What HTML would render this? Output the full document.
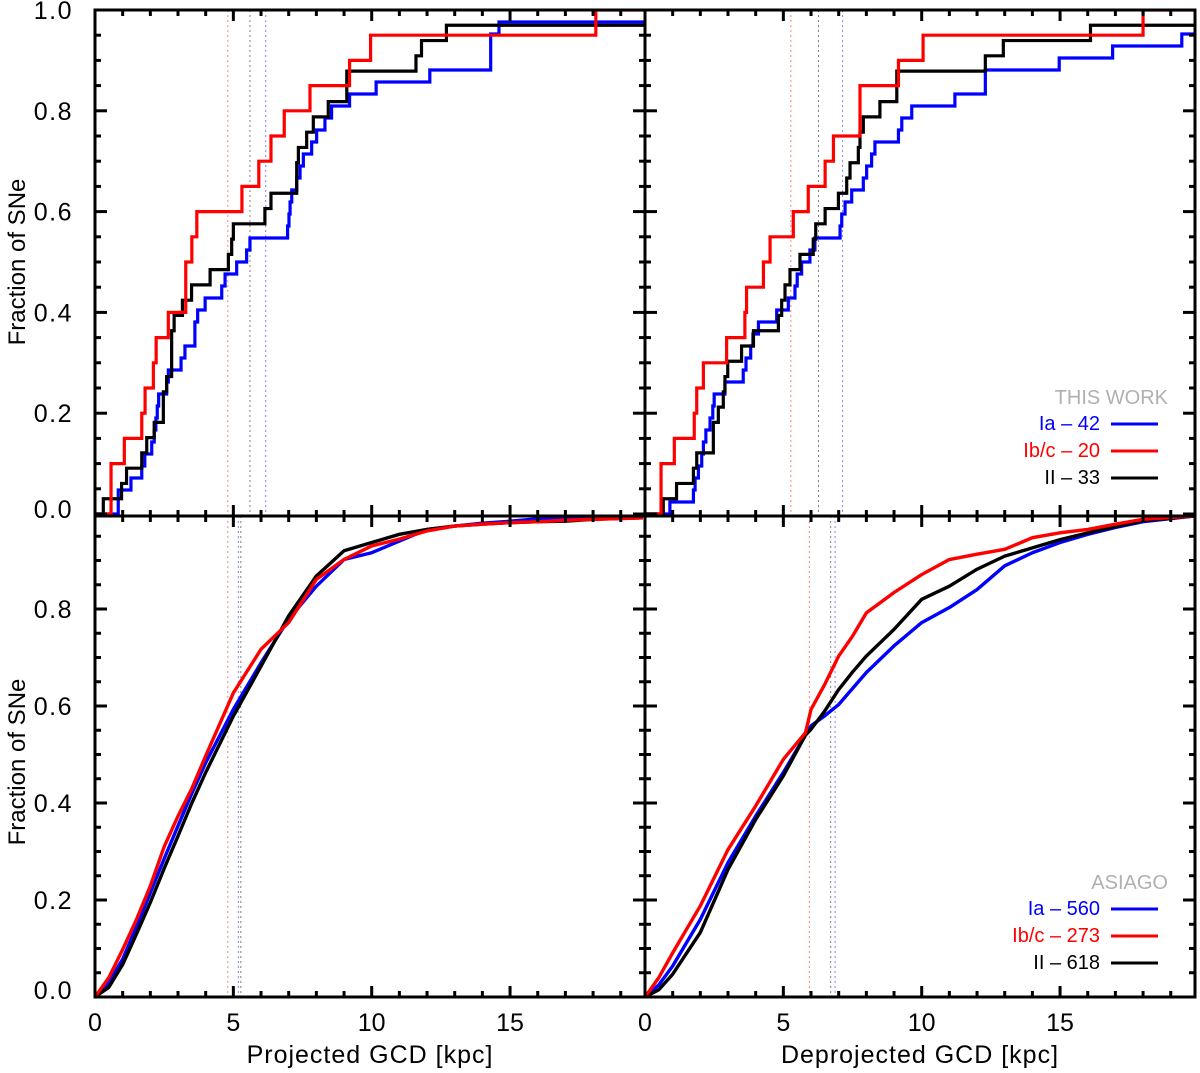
<!DOCTYPE html>
<html><head><meta charset="utf-8">
<style>
body{margin:0;background:#fff;}
svg{display:block;font-family:"Liberation Sans",Arial,sans-serif;}
</style></head>
<body>
<svg id="chart" width="1200" height="1073" viewBox="0 0 1200 1073" xmlns="http://www.w3.org/2000/svg"></svg>
<script>
// ---- data ----
const xTicks = [0, 5, 10, 15];
const yTicks = [0.0, 0.2, 0.4, 0.6, 0.8, 1.0];
// top panels: sorted SN distances (kpc), each a step of 1/N
const tlIa = [0.84,0.84,1.30,1.69,1.80,2.05,2.14,2.20,2.25,2.30,2.59,2.65,3.11,3.25,3.61,3.61,3.71,3.98,4.58,4.70,5.12,5.48,5.60,6.96,7.01,7.05,7.11,7.29,7.41,7.53,7.83,8.01,8.31,8.55,9.20,10.16,12.1,14.3,14.3,14.3,14.6,25];
const tlIbc = [0.58,0.58,1.06,1.69,1.81,2.11,2.21,2.65,3.28,3.28,3.50,3.68,5.31,5.92,6.36,6.84,7.77,9.2,9.96,18.1];
const tlII = [0.30,0.96,1.14,1.69,1.87,2.14,2.47,2.47,2.59,2.77,2.77,2.77,2.86,3.16,3.49,4.16,4.82,4.94,5.0,6.14,6.36,7.29,7.29,7.35,7.65,7.89,8.43,9.10,9.10,11.6,11.8,12.7,25];
const trIa = [0.9,1.75,1.81,1.93,2.05,2.11,2.2,2.35,2.45,2.5,2.89,3.55,3.65,3.82,3.9,4.1,4.76,5.18,5.42,5.5,5.66,5.96,6.14,7.05,7.11,7.23,7.47,7.89,8.01,8.19,8.31,9.16,9.28,9.64,11.2,12.3,12.3,14.97,16.9,19.4,25,25];
const trIbc = [0.58,0.58,1.06,1.78,1.87,2.11,2.95,3.61,3.67,4.28,4.52,5.36,5.90,6.51,6.81,7.77,7.77,9.16,10.05,18.0];
const trII = [0.66,1.14,1.75,1.87,2.47,2.47,2.65,2.83,2.89,2.99,3.49,3.92,4.82,4.94,5.06,5.24,5.6,6.08,6.17,6.51,6.99,7.29,7.41,7.71,7.77,7.89,8.49,9.1,9.1,12.3,12.95,16.1,25];
// bottom panels: cumulative fraction sampled at distances
const blX = [0,0.5,1,1.5,2,2.5,3,3.5,4,5,6,7,8,9,10,11,12,13,14,15,16,17,18,19.8];
const blIa = [0,0.03,0.078,0.145,0.215,0.285,0.353,0.42,0.483,0.593,0.689,0.779,0.847,0.902,0.916,0.94,0.964,0.971,0.977,0.981,0.986,0.99,0.99,0.99];
const blIbc = [0,0.04,0.098,0.16,0.229,0.31,0.373,0.43,0.497,0.627,0.717,0.772,0.861,0.902,0.93,0.944,0.961,0.971,0.975,0.978,0.98,0.983,0.985,0.988];
const blII = [0,0.02,0.067,0.13,0.195,0.265,0.332,0.4,0.463,0.579,0.682,0.786,0.868,0.92,0.937,0.954,0.964,0.971,0.975,0.978,0.98,0.981,0.985,0.988];
const brX = [0,0.5,1,2,3,4,5,5.8,6,6.5,7,7.5,8,9,10,11,12,13,14,15,16,17,18,19.9];
const brIa = [0,0.025,0.064,0.16,0.277,0.373,0.463,0.54,0.559,0.58,0.603,0.636,0.669,0.724,0.772,0.803,0.84,0.889,0.916,0.937,0.954,0.968,0.98,0.992];
const brIbc = [0,0.04,0.091,0.188,0.304,0.394,0.49,0.545,0.593,0.645,0.703,0.744,0.792,0.834,0.871,0.902,0.913,0.923,0.947,0.957,0.964,0.975,0.985,0.992];
const brII = [0,0.015,0.047,0.133,0.263,0.366,0.456,0.54,0.552,0.59,0.634,0.67,0.703,0.758,0.82,0.847,0.882,0.909,0.926,0.943,0.957,0.97,0.982,0.992];
// dotted median lines
const tlMed = [6.17, 4.8, 5.6];
const trMed = [7.14, 5.27, 6.27];
const blMed = [5.18, 4.8, 5.27];
const brMed = [6.87, 5.94, 6.71];

const NS = "http://www.w3.org/2000/svg";
const svg = document.getElementById('chart');
function el(tag, attrs, parent){ const e=document.createElementNS(NS,tag); for(const k in attrs) e.setAttribute(k,attrs[k]); (parent||svg).appendChild(e); return e; }
const COLORS = ['#0000ff','#ff0000','#000000'];
const DOTC = ['#8080ff','#ff8080','#808080'];

function makePanel(name, x0, x1, yTop, yBot, v0, v1){
  const xs = v => x0 + v*27.67;
  const ys = v => v0 - v*(v0 - v1);
  const g = el('g', {});
  
  
  const cp = el('clipPath', {id: name+'-clip'}, g);
  el('rect', {x:x0, y:yTop, width:x1-x0, height:yBot-yTop}, cp);
  return {xs, ys, g, x0, x1, yTop, yBot, clip:'url(#'+name+'-clip)'};
}
function frame(p, showYLabels, showXLabels){
  const f = el('rect', {x:p.x0, y:p.yTop, width:p.x1-p.x0, height:p.yBot-p.yTop, fill:'none', stroke:'#000', 'stroke-width':3}, p.g);
  
  
  for(let k=1;k<20;k++){
    const x=p.xs(k), L=(k%5===0)?11:6;
    el('line',{x1:x,x2:x,y1:p.yBot,y2:p.yBot-L,stroke:'#000','stroke-width':3},p.g);
    el('line',{x1:x,x2:x,y1:p.yTop,y2:p.yTop+L,stroke:'#000','stroke-width':3},p.g);
  }
  for(let k=0;k<=20;k++){
    const v=k*0.05, y=p.ys(v);
    if(y<p.yTop+2||y>p.yBot-2) continue;
    const L=(k%4===0)?12:6;
    el('line',{x1:p.x0,x2:p.x0+L,y1:y,y2:y,stroke:'#000','stroke-width':3},p.g);
    el('line',{x1:p.x1,x2:p.x1-L,y1:y,y2:y,stroke:'#000','stroke-width':3},p.g);
  }
  if(showYLabels){
    yTicks.forEach(v=>{
      const y=p.ys(v);
      if(y<p.yTop-2||y>p.yBot+6) return;
      const t=el('text',{x:73,y:Math.min(y,p.yBot-7)+9,'text-anchor':'end','font-size':25,'letter-spacing':1.5,fill:'#000'},p.g);
      t.textContent=v.toFixed(1);
      
      
    });
  }
  if(showXLabels){
    xTicks.forEach(v=>{
      const t=el('text',{x:p.xs(v),y:1031,'text-anchor':'middle','font-size':25,fill:'#000'},p.g);
      t.textContent=String(v);
      
      
    });
  }
}
function medians(p, arr){
  arr.forEach((m,i)=>{
    const l=el('line',{x1:p.xs(m),x2:p.xs(m),y1:p.yTop,y2:p.yBot,stroke:DOTC[i],'stroke-width':1,'stroke-dasharray':'2,3'},p.g);
    
    
  });
}
function stepLine(p, data, color, nm){
  const N=data.length;
  let d='M'+p.xs(0)+','+p.ys(0);
  let prev=0;
  data.forEach((x,i)=>{
    d+=' L'+p.xs(x)+','+p.ys(prev/N);
    prev=i+1;
    d+=' L'+p.xs(x)+','+p.ys(prev/N);
  });
  d+=' L'+p.xs(30)+','+p.ys(prev/N);
  const path=el('path',{d:d,fill:'none',stroke:color,'stroke-width':3.2,'clip-path':p.clip},p.g);
  
  
}
function smoothLine(p, xs, vs, color, nm){
  let d='';
  xs.forEach((x,i)=>{ d+=(i?' L':'M')+p.xs(x)+','+p.ys(vs[i]); });
  const path=el('path',{d:d,fill:'none',stroke:color,'stroke-width':3.4,'stroke-linejoin':'round','clip-path':p.clip},p.g);
  
  
}
function legend(p, title, labels, yBase){
  const t=el('text',{x:1168,y:yBase,'text-anchor':'end','font-size':20,fill:'#b0b0b0'},p.g);
  t.textContent=title;
  
  
  labels.forEach((lab,i)=>{
    const y=yBase+27*(i+1)-1;
    const tx=el('text',{x:1100,y:y,'text-anchor':'end','font-size':20,fill:COLORS[i]},p.g);
    tx.textContent=lab;
    
    
    const ln=el('line',{x1:1111,x2:1158,y1:y-6,y2:y-6,stroke:COLORS[i],'stroke-width':3},p.g);
    
    
  });
}

const TL = makePanel('panel-top-left', 95, 645, 10, 516, 514, 10);
const TR = makePanel('panel-top-right', 645, 1195, 10, 516, 514, 10);
const BL = makePanel('panel-bottom-left', 95, 645, 516, 997, 997, 512);
const BR = makePanel('panel-bottom-right', 645, 1195, 516, 997, 997, 512);

[[TL,tlMed],[TR,trMed],[BL,blMed],[BR,brMed]].forEach(([p,m])=>medians(p,m));

stepLine(TL, tlIa, COLORS[0], 'ia-this-work-projected');
stepLine(TL, tlII, COLORS[2], 'ii-this-work-projected');
stepLine(TL, tlIbc, COLORS[1], 'ibc-this-work-projected');
stepLine(TR, trIa, COLORS[0], 'ia-this-work-deprojected');
stepLine(TR, trII, COLORS[2], 'ii-this-work-deprojected');
stepLine(TR, trIbc, COLORS[1], 'ibc-this-work-deprojected');
smoothLine(BL, blX, blIa, COLORS[0], 'ia-asiago-projected');
smoothLine(BL, blX, blII, COLORS[2], 'ii-asiago-projected');
smoothLine(BL, blX, blIbc, COLORS[1], 'ibc-asiago-projected');
smoothLine(BR, brX, brIa, COLORS[0], 'ia-asiago-deprojected');
smoothLine(BR, brX, brII, COLORS[2], 'ii-asiago-deprojected');
smoothLine(BR, brX, brIbc, COLORS[1], 'ibc-asiago-deprojected');

frame(TL, true, false);
frame(TR, false, false);
frame(BL, true, true);
frame(BR, false, true);

legend(TR, 'THIS WORK', ['Ia – 42','Ib/c – 20','II – 33'], 404);
legend(BR, 'ASIAGO', ['Ia – 560','Ib/c – 273','II – 618'], 889);

function label(txt, attrs, nm){
  const t=el('text',attrs);
  t.textContent=txt;
  
  
}
label('Projected GCD [kpc]', {x:370,y:1063,'text-anchor':'middle','font-size':25,'letter-spacing':1}, 'x-axis-title-left');
label('Deprojected GCD [kpc]', {x:920,y:1063,'text-anchor':'middle','font-size':25,'letter-spacing':1}, 'x-axis-title-right');
label('Fraction of SNe', {x:0,y:0,'text-anchor':'middle','font-size':24,transform:'translate(25,262) rotate(-90)'}, 'y-axis-title-top');
label('Fraction of SNe', {x:0,y:0,'text-anchor':'middle','font-size':24,transform:'translate(25,762) rotate(-90)'}, 'y-axis-title-bottom');
</script>
</body></html>
